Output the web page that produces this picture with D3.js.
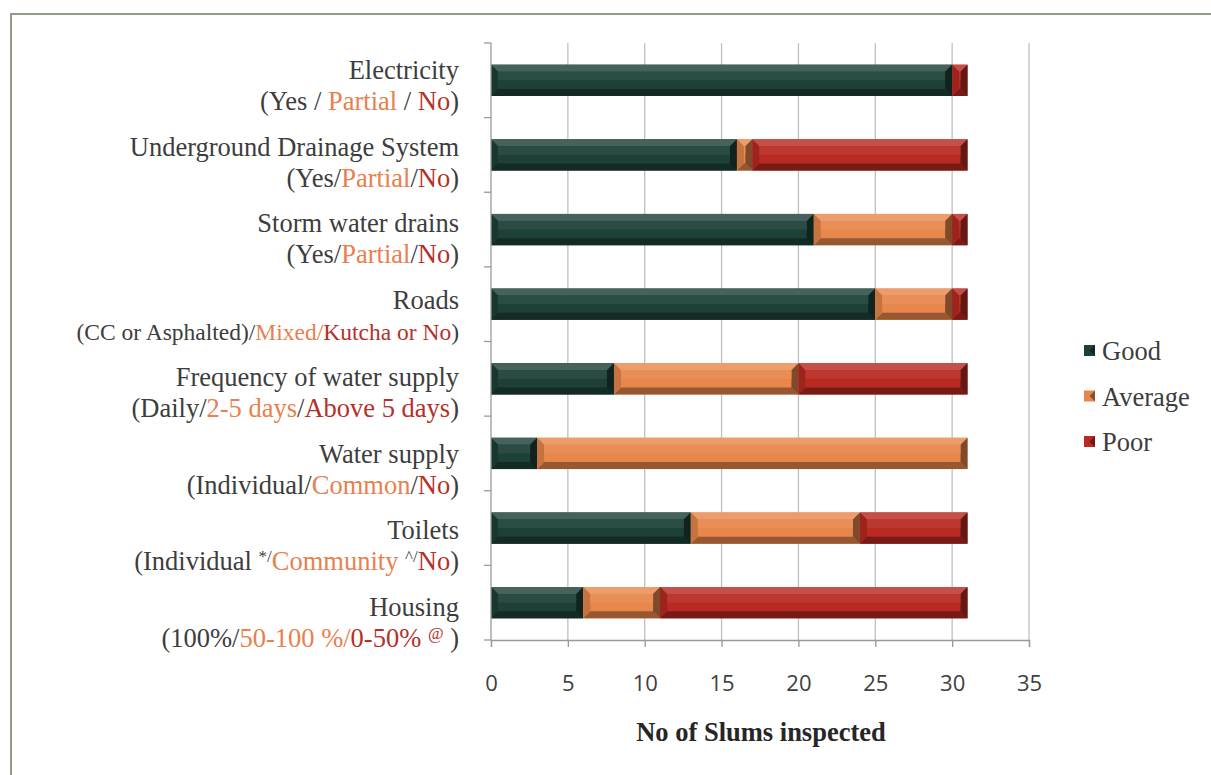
<!DOCTYPE html>
<html><head><meta charset="utf-8">
<script src="https://cdn.jsdelivr.net/npm/d3@7"></script>
<style>body{margin:0;background:#fff;} svg{display:block;}</style>
</head><body><svg id="c" width="1211" height="775"></svg>
<script>
const categories = ["Electricity","Underground Drainage System","Storm water drains","Roads","Frequency of water supply","Water supply","Toilets","Housing"];
const subLabels = [
  [["(Yes / ","n"],["Partial","a"],[" / ","n"],["No","p"],[")","n"]],
  [["(Yes/","n"],["Partial","a"],["/","n"],["No","p"],[")","n"]],
  [["(Yes/","n"],["Partial","a"],["/","n"],["No","p"],[")","n"]],
  [["(CC or Asphalted)/","n"],["Mixed/","a"],["Kutcha or No","p"],[")","n"]],
  [["(Daily/","n"],["2-5 days","a"],["/","n"],["Above 5 days","p"],[")","n"]],
  [["(Individual/","n"],["Common","a"],["/","n"],["No","p"],[")","n"]],
  [["(Individual ","n"],["*/","ns"],["Community ","a"],["^/","ns"],["No","p"],[")","n"]],
  [["(100%/","n"],["50-100 %/","a"],["0-50% ","p"],["@","ps"],[" )","n"]]
];
const seriesNames = ["Good","Average","Poor"];
const good    = [30,16,21,25, 8, 3,13, 6];
const average = [ 0, 1, 9, 5,12,28,11, 5];
const poor    = [ 1,14, 1, 1,11, 0, 7,20];
const xTicks = [0,5,10,15,20,25,30,35];

const colors = {Good:"#1d4039", Average:"#e8874c", Poor:"#b82a22"};
const textCol = {n:"#3d3d3d", ns:"#3d3d3d", a:"#e8804f", p:"#b5302a", ps:"#b5302a"};
const serif = "'Liberation Serif', 'Times New Roman', serif";

const svg = d3.select("#c");
// frame
svg.append("path").attr("d","M11,775 L11,14 L1211,14").attr("fill","none").attr("stroke","#8f9c86").attr("stroke-width",2);

const x = d3.scaleLinear().domain([0,35]).range([491,1029]);
const y = d3.scaleBand().domain(categories).range([43,640]).paddingInner(0.58).paddingOuter(0.29);
const yl = d3.scalePoint().domain(categories).range([70,607]);

// gridlines
svg.append("g").selectAll("line").data(xTicks.slice(1)).join("line")
  .attr("x1",d=>x(d)).attr("x2",d=>x(d)).attr("y1",43).attr("y2",640)
  .attr("stroke","#c0c0c0").attr("stroke-width",1.3);

// stacked data
const rows = categories.map((c,i)=>({cat:c, Good:good[i], Average:average[i], Poor:poor[i]}));
const stack = d3.stack().keys(seriesNames)(rows);

const gBars = svg.append("g");
stack.forEach(s=>{
  const col = colors[s.key];
  s.forEach((d,i)=>{
    if(d[1]-d[0] <= 0) return;
    const x0=x(d[0]), x1=x(d[1]), y0=y(categories[i]), y1=y0+y.bandwidth();
    const b=Math.min(7,(x1-x0)/2,(y1-y0)/2);
    const g=gBars.append("g");
    g.append("rect").attr("x",x0).attr("y",y0).attr("width",x1-x0).attr("height",y1-y0).attr("fill",col);
    g.append("path").attr("d",`M${x0},${y0}L${x1},${y0}L${x1-b},${y0+b}L${x0+b},${y0+b}Z`).attr("fill",d3.interpolateRgb(col,"#fff")(0.18));
    g.append("path").attr("d",`M${x0},${y1}L${x1},${y1}L${x1-b},${y1-b}L${x0+b},${y1-b}Z`).attr("fill",d3.interpolateRgb(col,"#000")(0.35));
    g.append("path").attr("d",`M${x0},${y0}L${x0+b},${y0+b}L${x0+b},${y1-b}L${x0},${y1}Z`).attr("fill",d3.interpolateRgb(col,"#000")(0.15));
    g.append("path").attr("d",`M${x1},${y0}L${x1-b},${y0+b}L${x1-b},${y1-b}L${x1},${y1}Z`).attr("fill",d3.interpolateRgb(col,"#000")(0.45));
    g.append("rect").attr("x",x0+b).attr("y",y0+b).attr("width",Math.max(0,x1-x0-2*b)).attr("height",(y1-y0-2*b)/2)
      .attr("fill",d3.interpolateRgb(col,"#fff")(0.06));
  });
});

// y axis
const yAxis = svg.append("g");
yAxis.append("line").attr("x1",491).attr("x2",491).attr("y1",43).attr("y2",640).attr("stroke","#999").attr("stroke-width",1.3);
const bounds = categories.map(c=>y(c)-y.step()*y.paddingInner()/2).concat([640]);
yAxis.selectAll(".t").data(bounds).join("line").attr("x1",484).attr("x2",491)
  .attr("y1",d=>d).attr("y2",d=>d).attr("stroke","#999").attr("stroke-width",1.3);

// x axis
const xAxis = svg.append("g").attr("transform","translate(0,640)")
  .call(d3.axisBottom(x).tickValues(xTicks).tickSize(7).tickPadding(28));
xAxis.select(".domain").attr("stroke","#999").attr("stroke-width",1.3);
xAxis.selectAll(".tick line").attr("stroke","#999").attr("stroke-width",1.3);
xAxis.selectAll(".tick text").attr("font-family","'Open Sans', sans-serif").attr("font-size",22).attr("fill","#404040");

// category labels
categories.forEach((c,i)=>{
  const cy = yl(c);
  svg.append("text").attr("x",459).attr("y",cy+9).attr("text-anchor","end")
    .attr("font-family",serif).attr("font-size",26.5).attr("fill","#3d3d3d").text(c);
  const t = svg.append("text").attr("x",459).attr("y",cy+40).attr("text-anchor","end")
    .attr("font-family",serif).attr("font-size", i===3?23.5:26.5);
  subLabels[i].forEach(p=>{
    const sp = t.append("tspan").attr("fill",textCol[p[1]]).text(p[0]);
    if(p[1]==="ns"||p[1]==="ps"){ sp.attr("font-size",17).attr("baseline-shift","45%"); }
  });
});

// axis title
svg.append("text").attr("x",761).attr("y",741).attr("text-anchor","middle")
  .attr("font-family",serif).attr("font-weight","bold").attr("font-size",26.5)
  .attr("fill","#262626").text("No of Slums inspected");

// legend
const leg = svg.append("g");
const ly = d3.scalePoint().domain(seriesNames).range([351,442]);
seriesNames.forEach(n=>{
  const cy=ly(n);
  const col=colors[n];
  leg.append("rect").attr("x",1084).attr("y",cy-6).attr("width",11).attr("height",11).attr("fill",col);
  leg.append("path").attr("d",`M${1095},${cy-6}L${1089.5},${cy-0.5}L${1095},${cy+5}Z`).attr("fill",d3.interpolateRgb(col,"#000")(0.4));
  leg.append("text").attr("x",1102).attr("y",cy+9).attr("font-family",serif)
    .attr("font-size",26.5).attr("fill","#3d3d3d").text(n);
});
</script></body></html>
